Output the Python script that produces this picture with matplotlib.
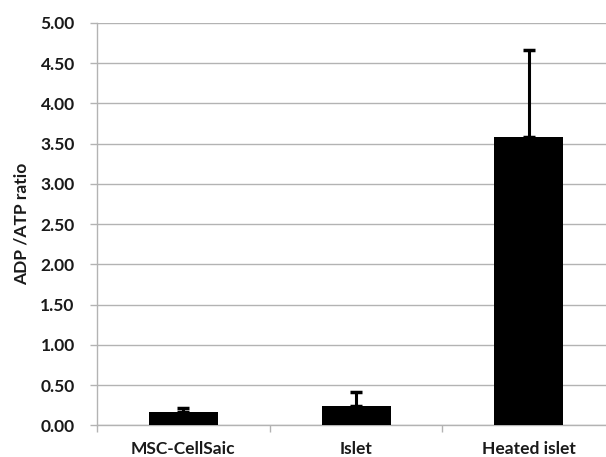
import matplotlib
matplotlib.use("Agg")
import matplotlib.pyplot as plt
import numpy as np

categories = ["MSC-CellSaic", "Islet", "Heated islet"]
values = [0.16, 0.24, 3.58]
errors = [0.05, 0.18, 1.08]
yticks = [0.0, 0.5, 1.0, 1.5, 2.0, 2.5, 3.0, 3.5, 4.0, 4.5, 5.0]

W, H = 606, 457
fig = plt.figure(figsize=(W / 100, H / 100), dpi=100)
left, right, top, bottom = 97, 606, 23, 425.3
ax = fig.add_axes([left / W, 1 - bottom / H, (right - left) / W, (bottom - top) / H])

grid_c = "#b3b3b3"
x = np.arange(len(categories))
ax.bar(x, values, width=0.4, color="black", zorder=3)
ax.errorbar(x, values, yerr=[np.zeros(len(values)), errors], fmt="none",
            ecolor="black", elinewidth=2.2, capsize=4, capthick=2.5, zorder=4)

ax.set_xlim(-0.5, -0.5 + (right - left) / 172.7)
ax.set_ylim(0, 5)
ax.set_yticks(yticks)
ax.set_yticklabels([f"{v:.2f}" for v in yticks])
ax.yaxis.grid(True, color=grid_c, linewidth=1.0, zorder=0)
ax.set_axisbelow(True)

ax.set_xticks(x)
ax.set_xticklabels(categories)
ax.set_xticks([-0.5, 0.5, 1.5], minor=True)
ax.tick_params(axis="x", which="major", length=0, pad=11)
ax.tick_params(axis="x", which="minor", length=5, color=grid_c, width=1)
ax.tick_params(axis="y", length=5, color=grid_c, width=1, pad=11)

for s in ["top", "right"]:
    ax.spines[s].set_visible(False)
for s in ["left", "bottom"]:
    ax.spines[s].set_color(grid_c)
    ax.spines[s].set_linewidth(1.0)

fs = 12.5
fp = dict(family="Lato", weight="bold", size=fs, color="#1a1a1a")
for lab in ax.get_xticklabels() + ax.get_yticklabels():
    lab.set_fontfamily("Lato")
    lab.set_fontweight("bold")
    lab.set_fontsize(fs)
    lab.set_color("#1a1a1a")

ax.set_ylabel("ADP /ATP ratio", fontdict=fp, labelpad=8)

fig.savefig("out.png", dpi=100)
